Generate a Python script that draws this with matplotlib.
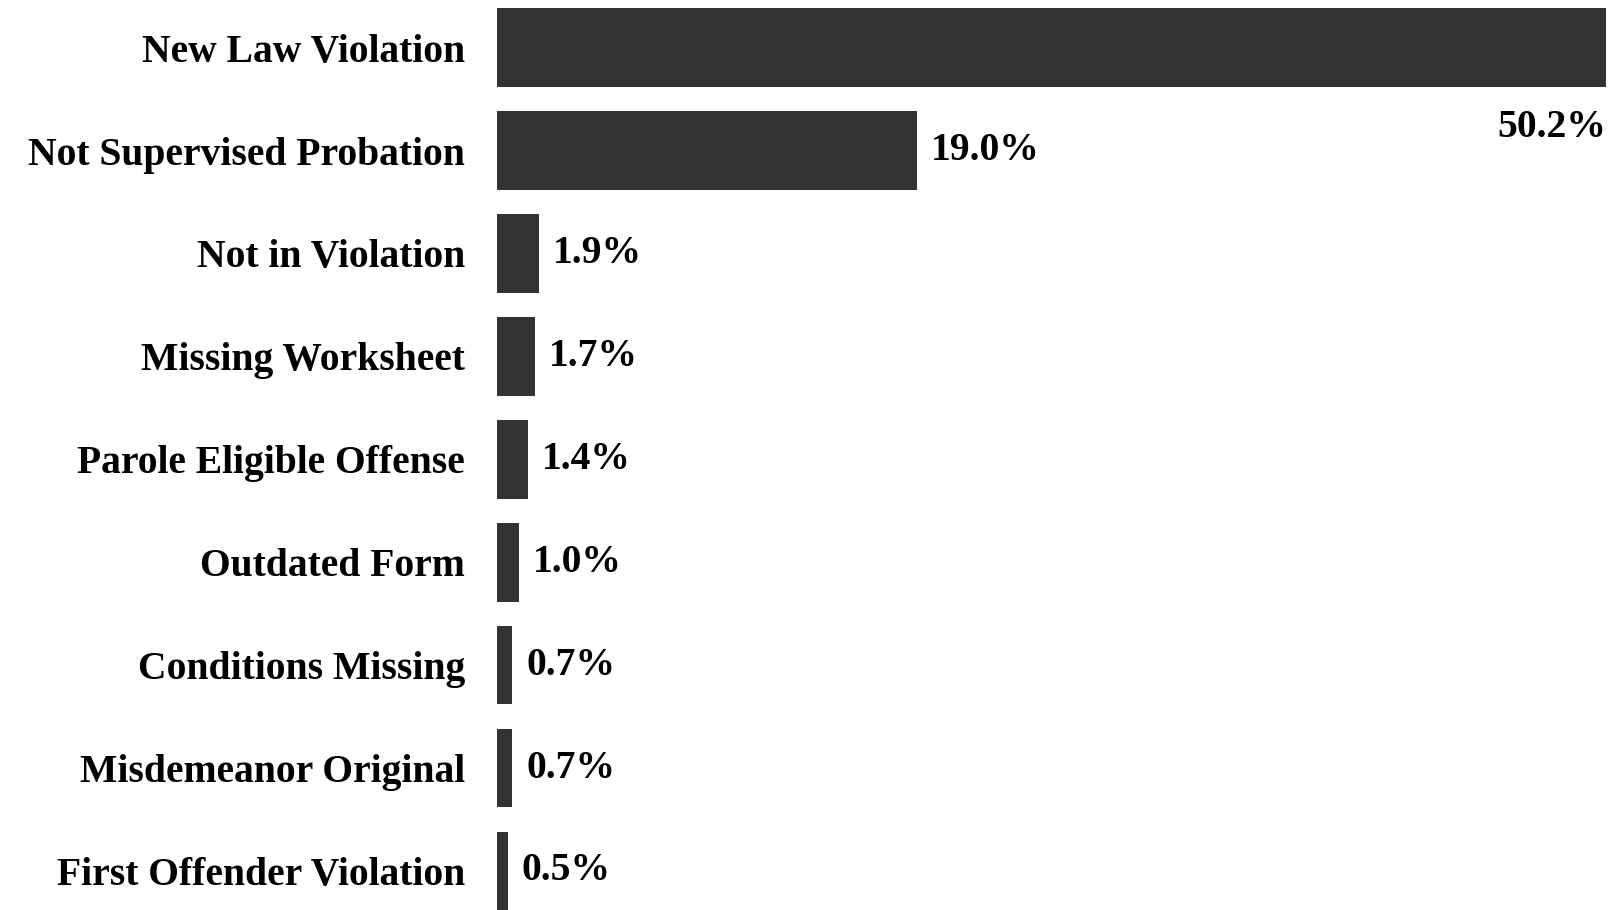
import matplotlib.pyplot as plt

categories = [
    "New Law Violation",
    "Not Supervised Probation",
    "Not in Violation",
    "Missing Worksheet",
    "Parole Eligible Offense",
    "Outdated Form",
    "Conditions Missing",
    "Misdemeanor Original",
    "First Offender Violation",
]
values = [50.2, 19.0, 1.9, 1.7, 1.4, 1.0, 0.7, 0.7, 0.5]
value_labels = ["50.2%", "19.0%", "1.9%", "1.7%", "1.4%", "1.0%", "0.7%", "0.7%", "0.5%"]

plt.rcParams["font.family"] = ["Liberation Serif", "DejaVu Serif"]
plt.rcParams["font.weight"] = "bold"
FS = 28.5

fig = plt.figure(figsize=(16.14, 9.10), dpi=100)
ax = fig.add_axes([497 / 1614, 0.0, 1 - 497 / 1614, 1.0])

pos = list(range(len(categories)))
ax.barh(pos, values, height=0.763, color="#333333")
ax.set_xlim(0, 50.56)
ax.set_ylim(8.379, -0.463)

ax.set_yticks(pos)
ax.set_yticklabels(categories, fontsize=FS, fontweight="bold")
ax.tick_params(axis="y", length=0, pad=23)
ax.set_xticks([])
for s in ax.spines.values():
    s.set_visible(False)

for i, (v, lab) in enumerate(zip(values, value_labels)):
    if i == 0:
        # the top bar fills the width, so its label sits underneath the end
        ax.text(v, i + 0.78, lab, ha="right", va="center", fontsize=FS, fontweight="bold")
    else:
        ax.annotate(lab, (v, i), xytext=(10, 0), textcoords="offset points",
                    ha="left", va="center", fontsize=FS, fontweight="bold")

fig.savefig("out.png", dpi=100)
